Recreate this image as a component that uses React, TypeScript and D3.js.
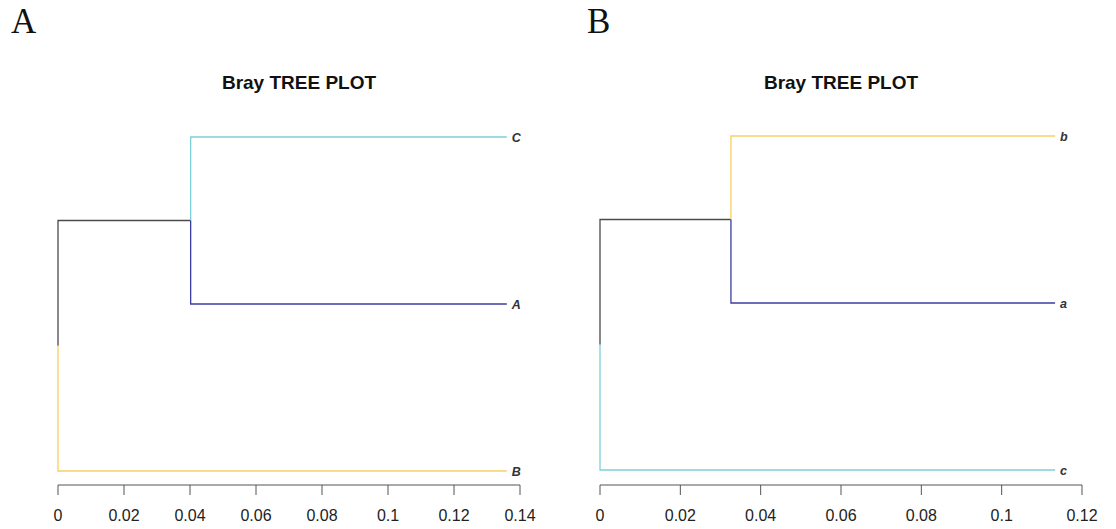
import React from "react";
import * as d3 from "d3";

// Panel A data (branch distances from root, leaves listed top to bottom)
const leavesA = ["C", "A", "B"];
const leafColorsA = ["#7dd0da", "#3b3e9e", "#f6cf66"];
const mergeDistA = 0.0402; // root -> (C, A)
const leafDistA = 0.136;
const ticksA = [0, 0.02, 0.04, 0.06, 0.08, 0.1, 0.12, 0.14];

// Panel B data
const leavesB = ["b", "a", "c"];
const leafColorsB = ["#f6cf66", "#3b3e9e", "#7dd0da"];
const mergeDistB = 0.0326; // root -> (b, a)
const leafDistB = 0.1133;
const ticksB = [0, 0.02, 0.04, 0.06, 0.08, 0.1, 0.12];

const rootColor = "#4a4a4a";

type TreeProps = {
  leaves: string[];
  colors: string[];
  mergeDist: number;
  leafDist: number;
  ticks: number[];
  xRange: [number, number];
  yRange: [number, number];
  axisY: number;
  titleX: number;
  letter: string;
  letterX: number;
};

const Tree = (props: TreeProps) => {
  const { leaves, colors, mergeDist, leafDist, ticks, xRange, yRange, axisY } = props;

  const x = d3.scaleLinear().domain([0, ticks[ticks.length - 1]]).range(xRange);
  const y = d3.scalePoint<string>().domain(leaves).range(yRange);

  // first two leaves merge at the inner node, third hangs off the root
  const yTop = y(leaves[0])!;
  const yMid = y(leaves[1])!;
  const yLow = y(leaves[2])!;
  const yInner = (yTop + yMid) / 2;
  const yRoot = (yInner + yLow) / 2;
  const xRoot = x(0);
  const xInner = x(mergeDist);
  const xLeaf = x(leafDist);

  const seg = (pts: [number, number][]) => d3.line()(pts) as string;

  return (
    <g>
      <text x={props.letterX} y={33} fontFamily="Liberation Serif, serif" fontSize={35} fill="#111">
        {props.letter}
      </text>
      <text x={props.titleX} y={89} textAnchor="middle" fontFamily="Liberation Sans, Arial, sans-serif"
        fontWeight="bold" fontSize={19} fill="#111">
        Bray TREE PLOT
      </text>

      {/* root -> inner node */}
      <path d={seg([[xRoot, yRoot], [xRoot, yInner], [xInner, yInner]])} fill="none" stroke={rootColor} strokeWidth={1.3} />
      {/* root -> lone leaf */}
      <path d={seg([[xRoot, yRoot], [xRoot, yLow], [xLeaf, yLow]])} fill="none" stroke={colors[2]} strokeWidth={1.3} />
      {/* inner -> top leaf */}
      <path d={seg([[xInner, yInner], [xInner, yTop], [xLeaf, yTop]])} fill="none" stroke={colors[0]} strokeWidth={1.3} />
      {/* inner -> middle leaf */}
      <path d={seg([[xInner, yInner], [xInner, yMid], [xLeaf, yMid]])} fill="none" stroke={colors[1]} strokeWidth={1.3} />

      {leaves.map((l) => (
        <text key={l} x={xLeaf + 5} y={y(l)! + 4.5} fontFamily="Liberation Sans, Arial, sans-serif"
          fontStyle="italic" fontWeight="bold" fontSize={12.5} fill="#333">
          {l}
        </text>
      ))}

      {/* axis */}
      <line x1={x(0)} x2={x(ticks[ticks.length - 1])} y1={axisY} y2={axisY} stroke="#555" strokeWidth={1} />
      {ticks.map((t) => (
        <g key={t}>
          <line x1={x(t)} x2={x(t)} y1={axisY} y2={axisY + 10} stroke="#555" strokeWidth={1} />
          <text x={x(t)} y={axisY + 36} textAnchor="middle" fontFamily="Liberation Sans, Arial, sans-serif"
            fontSize={16} fill="#222">
            {String(t)}
          </text>
        </g>
      ))}
    </g>
  );
};

export default function App() {
  return (
    <svg width={1116} height={529} style={{ position: "absolute", left: 0, top: 0, background: "#fff" }}>
      <rect width={1116} height={529} fill="#fff" />
      <Tree leaves={leavesA} colors={leafColorsA} mergeDist={mergeDistA} leafDist={leafDistA} ticks={ticksA}
        xRange={[58, 520]} yRange={[137, 471]} axisY={485} titleX={299} letter="A" letterX={11} />
      <Tree leaves={leavesB} colors={leafColorsB} mergeDist={mergeDistB} leafDist={leafDistB} ticks={ticksB}
        xRange={[600, 1082]} yRange={[136, 470]} axisY={485} titleX={841} letter="B" letterX={587} />
    </svg>
  );
}
